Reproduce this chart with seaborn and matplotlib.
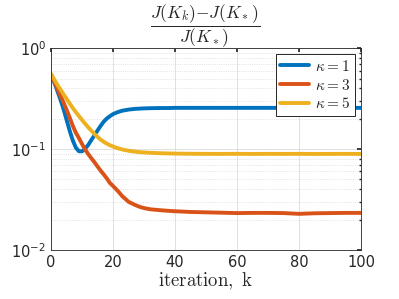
import numpy as np
import pandas as pd
import matplotlib
matplotlib.use("Agg")
import matplotlib.pyplot as plt
import seaborn as sns
from matplotlib.ticker import LogLocator, FixedLocator

iters = list(range(0, 31)) + [32, 35, 38, 40, 45, 50, 55, 60, 65, 70, 75, 80, 85, 90, 95, 100]
kappa1 = [0.55, 0.46, 0.38, 0.31, 0.25, 0.195, 0.152, 0.122, 0.103, 0.095, 0.095,
          0.101, 0.110, 0.123, 0.137, 0.153, 0.170, 0.187, 0.201, 0.212, 0.222,
          0.229, 0.235, 0.240, 0.243, 0.246, 0.248, 0.250, 0.251, 0.252, 0.253,
          0.254, 0.255, 0.255, 0.256, 0.256, 0.256, 0.256, 0.256, 0.256, 0.256,
          0.256, 0.256, 0.256, 0.256, 0.256, 0.256]
kappa3 = [0.55, 0.47, 0.40, 0.34, 0.29, 0.245, 0.205, 0.17, 0.145, 0.128, 0.112,
          0.099, 0.089, 0.081, 0.074, 0.067, 0.061, 0.056, 0.051, 0.046, 0.043,
          0.040, 0.037, 0.034, 0.032, 0.030, 0.0290, 0.0280, 0.0272, 0.0265, 0.0260,
          0.0253, 0.0248, 0.0244, 0.0242, 0.0238, 0.0236, 0.0234, 0.0232, 0.0233,
          0.0233, 0.0232, 0.0228, 0.0231, 0.0232, 0.0233, 0.0233]
kappa5 = [0.55, 0.49, 0.435, 0.39, 0.35, 0.315, 0.283, 0.255, 0.232, 0.212, 0.194,
          0.178, 0.164, 0.152, 0.141, 0.132, 0.124, 0.118, 0.113, 0.109, 0.106,
          0.103, 0.101, 0.099, 0.0975, 0.0962, 0.0952, 0.0943, 0.0936, 0.093, 0.0925,
          0.0918, 0.091, 0.0905, 0.0902, 0.0898, 0.0896, 0.0895, 0.0897, 0.0894,
          0.0896, 0.0895, 0.0896, 0.0894, 0.0895, 0.0896, 0.0894]
labels = [r"$\kappa = 1$", r"$\kappa = 3$", r"$\kappa = 5$"]
colors = ["#0072BD", "#D95319", "#EDB120"]

df = pd.concat([
    pd.DataFrame({"k": iters, "val": v, "series": lab})
    for v, lab in zip([kappa1, kappa3, kappa5], labels)
])

sns.set_theme(style="white")
plt.rcParams["mathtext.fontset"] = "cm"
plt.rcParams["font.family"] = ["DejaVu Sans"]

fig = plt.figure(figsize=(3.99, 2.99), dpi=100)
ax = fig.add_axes([0.128, 0.164, 0.777, 0.675])
sns.lineplot(data=df, x="k", y="val", hue="series", palette=colors, linewidth=2.8,
             ax=ax, legend=True)
ax.set_yscale("log")
ax.set_xlim(0, 100)
ax.set_ylim(1e-2, 1)
ax.set_xticks([0, 20, 40, 60, 80, 100])
ax.yaxis.set_major_locator(FixedLocator([1e-2, 1e-1, 1]))
ax.yaxis.set_minor_locator(LogLocator(base=10, subs=np.arange(2, 10)))
ax.grid(True, which="major", color="#dcdcdc", linewidth=0.6, linestyle="-")
ax.grid(True, which="minor", axis="y", color="#d0d0d0", linewidth=0.5, linestyle=":")
for s in ax.spines.values():
    s.set_color("#262626")
    s.set_linewidth(0.6)
    s.set_visible(True)
ax.tick_params(axis="both", which="both", direction="in", colors="#262626",
               labelsize=10.5, length=3, top=True, right=True)
ax.tick_params(axis="y", which="minor", length=1.5)
ax.set_xlabel(r"$\mathrm{iteration,\ k}$", fontsize=13.5, labelpad=1)
ax.set_ylabel("")
fig.text(0.515, 0.913, r"$\dfrac{J(K_k){-}J(K_*)}{J(K_*)}$", fontsize=12.5,
         ha="center", va="center")
leg = ax.legend(loc="upper right", fontsize=11, frameon=True, fancybox=False,
                framealpha=1, edgecolor="#262626", handlelength=1.9,
                borderpad=0.3, labelspacing=0.25, handletextpad=0.4,
                borderaxespad=0.4)
leg.get_frame().set_linewidth(0.7)
for line in leg.get_lines():
    line.set_linewidth(2.8)
fig.savefig("out.png", dpi=100)
